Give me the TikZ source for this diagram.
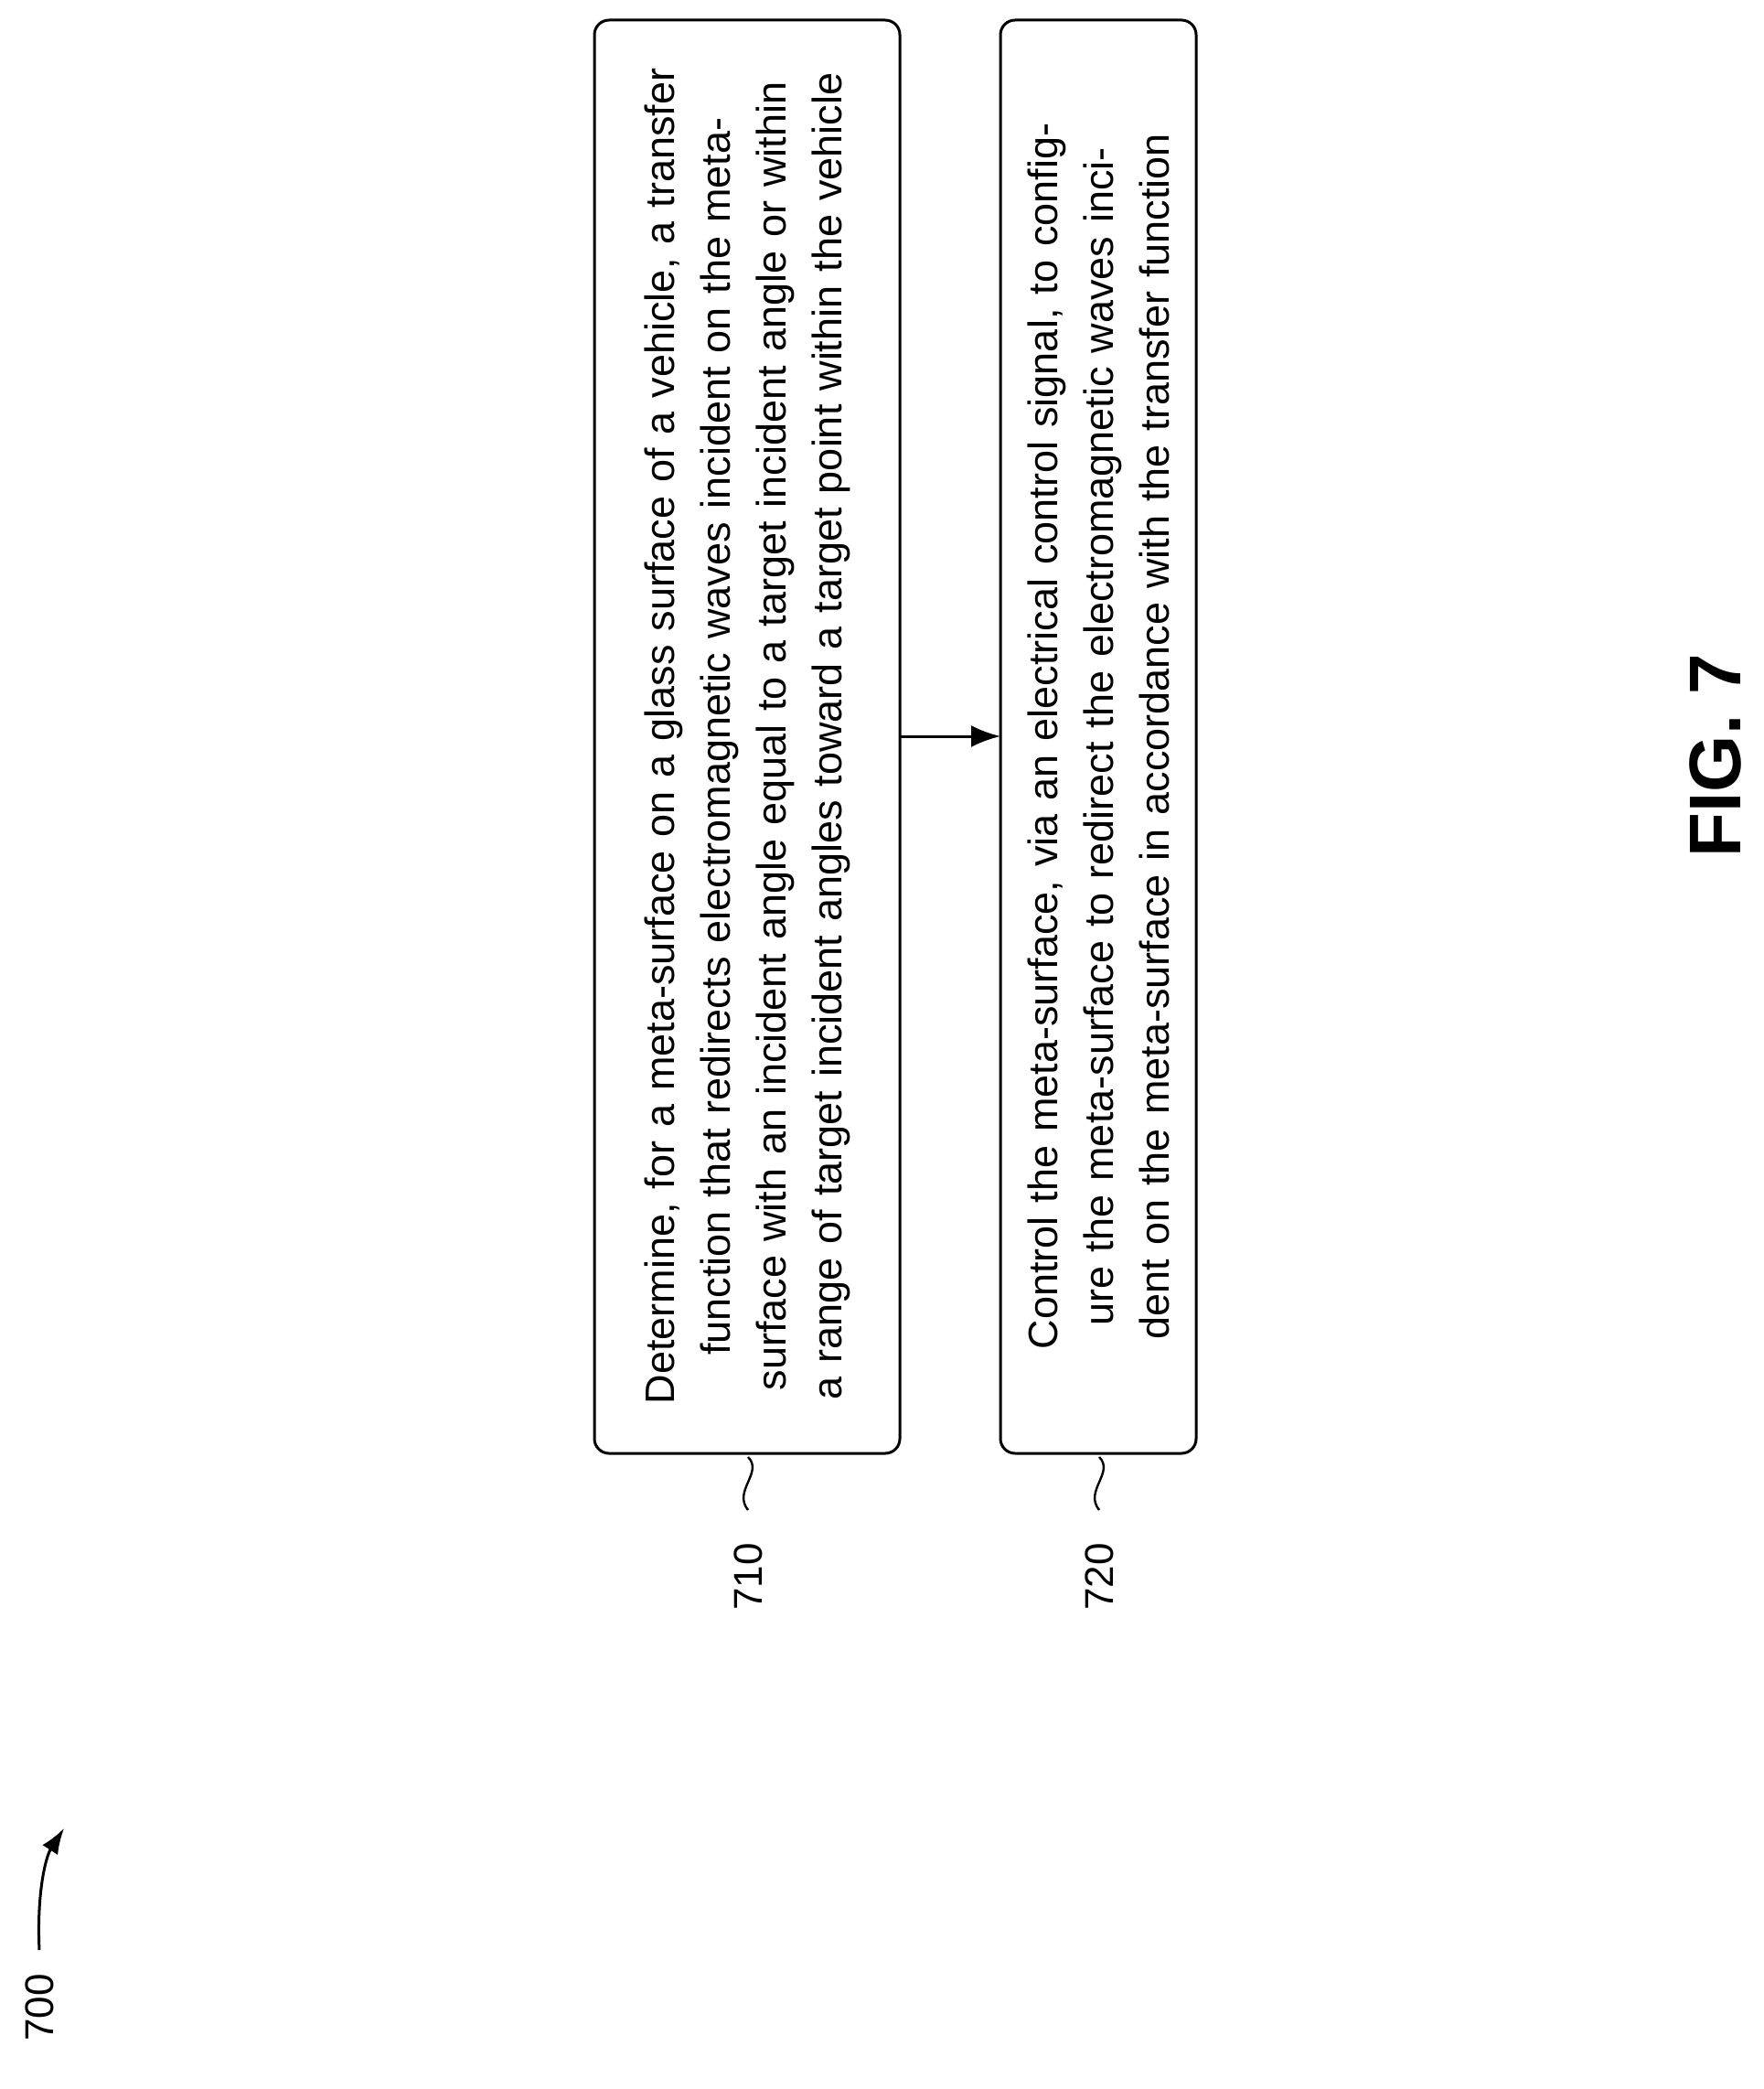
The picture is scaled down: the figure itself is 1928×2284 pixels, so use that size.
\documentclass[tikz,border=0pt]{standalone}
\usepackage{fontspec}
\setmainfont{Liberation Sans}
\usetikzlibrary{arrows.meta}
\begin{document}
\begin{tikzpicture}[x=0.5pt,y=-0.5pt,
  stepbox/.style={draw,line width=1.5pt,rounded corners=8pt},
  boxtext/.style={rotate=90,align=center,text width=760pt,font=\fontsize{22.5pt}{30.5pt}\selectfont,inner sep=0pt},
  lbl/.style={rotate=90,font=\fontsize{22pt}{26pt}\selectfont},
  squig/.style={line width=1.2pt}]
\useasboundingbox (0,0) rectangle (1928,2284);
\draw[stepbox] (650,22) rectangle (984,1589);
\draw[stepbox] (1094,22) rectangle (1308,1589);
\node[boxtext] (t1) at (817,805) {Determine, for a meta-surface on a glass surface of a vehicle, a transfer function that redirects electromagnetic waves incident on the meta-surface with an incident angle equal to a target incident angle or within a range of target incident angles toward a target point within the vehicle};
\node[boxtext] (t2) at (1201,805) {Control the meta-surface, via an electrical control signal, to configure the meta-surface to redirect the electromagnetic waves incident on the meta-surface in accordance with the transfer function};
\coordinate (a1) at (984,805);
\coordinate (a2) at (1094,805);
\draw[line width=1.5pt,-{Latex[length=16pt,width=12pt]}] (a1) -- (a2);
\draw[squig] (818,1593) .. controls (835,1610) and (801,1630) .. (818,1651);
\draw[squig] (1202,1593) .. controls (1219,1610) and (1185,1630) .. (1202,1651);
\node[lbl] (l710) at (818,1724) {710};
\node[lbl] (l720) at (1202,1724) {720};
\node[rotate=90,font=\fontsize{40pt}{44pt}\selectfont\bfseries] (fig) at (1876,826) {FIG. 7};
\node[lbl] (l700) at (43,2195) {700};
\coordinate (c1) at (43,2132);
\coordinate (c2) at (70,1999);
\draw[line width=1.5pt,-{Latex[length=14pt,width=10pt]}] (c1) .. controls (40,2070) and (50,2030) .. (c2);
\end{tikzpicture}
\end{document}
